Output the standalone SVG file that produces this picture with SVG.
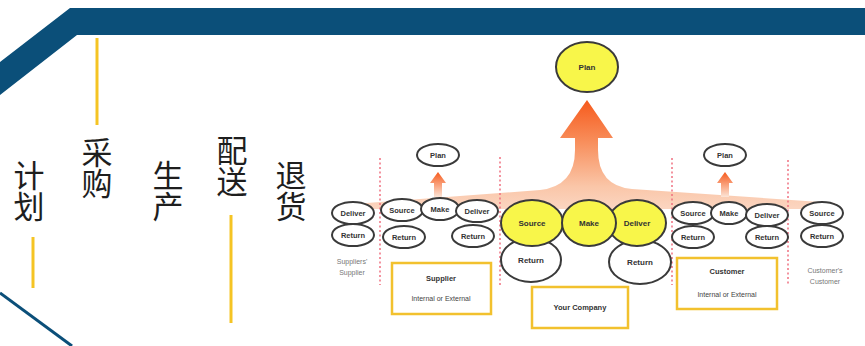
<svg xmlns="http://www.w3.org/2000/svg" width="865" height="346" viewBox="0 0 865 346">
<defs>
<linearGradient id="bigArrow" x1="0" y1="100" x2="0" y2="208" gradientUnits="userSpaceOnUse">
<stop offset="0" stop-color="#F65A1C"/>
<stop offset="0.4" stop-color="#F8905E"/>
<stop offset="0.8" stop-color="#FAC6A8"/>
<stop offset="1" stop-color="#FBD5C0"/>
</linearGradient>
<linearGradient id="smallArrow" x1="0" y1="0" x2="0" y2="1">
<stop offset="0" stop-color="#F65A1C"/>
<stop offset="1" stop-color="#FCE4D6"/>
</linearGradient>
<style>
.el{fill:#fff;stroke:#3a3a3a;stroke-width:2}
.yel{fill:#F8F64A;stroke:#3a3a3a;stroke-width:2}
.lbl{font-family:"Liberation Sans",Arial,sans-serif;font-size:7.5px;font-weight:bold;fill:#333;text-anchor:middle}
.blbl{font-family:"Liberation Sans",Arial,sans-serif;font-size:8px;font-weight:bold;fill:#333;text-anchor:middle}
.box{fill:#fff;stroke:#F2C12E;stroke-width:2.5}
.gray{font-family:"Liberation Sans",Arial,sans-serif;font-size:7px;fill:#777;text-anchor:middle}
.sub{font-family:"Liberation Sans",Arial,sans-serif;font-size:7px;fill:#444;text-anchor:middle}
.cn{font-family:"Noto Sans CJK SC","Noto Sans",sans-serif;font-size:31px;fill:#1e1e1e;writing-mode:vertical-rl;text-orientation:upright}
.dash{stroke:#F07080;stroke-width:1.5;stroke-dasharray:2 2.5;fill:none}
.ylw{stroke:#F5C424;stroke-width:3}
</style>
</defs>
<rect width="865" height="346" fill="#fff"/>
<!-- frame -->
<polygon points="0,62 70,8 865,8 865,35 77,35 0,95" fill="#0B4F79"/>
<line x1="0" y1="293" x2="72" y2="346" stroke="#0B4F79" stroke-width="3"/>
<!-- yellow lines -->
<line class="ylw" x1="97" y1="38" x2="97" y2="125"/>
<line class="ylw" x1="33" y1="237" x2="33" y2="288"/>
<line class="ylw" x1="231" y1="215" x2="231" y2="323"/>
<!-- Chinese labels -->
<g id="label-plan-cn"><text class="cn" x="29" y="160">计划</text></g>
<g id="label-source-cn"><text class="cn" x="97" y="137">采购</text></g>
<g id="label-make-cn"><text class="cn" x="168" y="160">生产</text></g>
<g id="label-deliver-cn"><text class="cn" x="232" y="135">配送</text></g>
<g id="label-return-cn"><text class="cn" x="291" y="160">退货</text></g>
<!-- connectors: arrows and fan -->
<g id="connectors">
<path d="M340,209 L340,205 L540,190 Q575,186 575,150 L575,138 L560,138 L587,100 L613,138 L598,138 L598,150 Q598,186 632,189 L835,203 L835,209 Z" fill="url(#bigArrow)"/>
<path d="M434,197 L434,183 L430,183 L438,172 L446,183 L442,183 L442,197 Z" fill="url(#smallArrow)"/>
<path d="M721,197 L721,183 L717,183 L725,172 L733,183 L729,183 L729,197 Z" fill="url(#smallArrow)"/>
<line class="dash" x1="380" y1="158" x2="380" y2="285"/>
<line class="dash" x1="500" y1="157" x2="500" y2="285"/>
<line class="dash" x1="672" y1="158" x2="672" y2="285"/>
<line class="dash" x1="788" y1="160" x2="788" y2="285"/>
</g>
<!-- Suppliers' supplier -->
<g id="ss-deliver"><ellipse class="el" cx="353" cy="213" rx="21" ry="11"/><text class="lbl" x="353" y="216">Deliver</text></g>
<g id="ss-return"><ellipse class="el" cx="353" cy="235" rx="21" ry="11"/><text class="lbl" x="353" y="238">Return</text></g>
<g id="ss-label"><text class="gray" x="352" y="264">Suppliers'</text><text class="gray" x="352" y="275">Supplier</text></g>
<!-- Supplier -->
<g id="sup-plan"><ellipse class="el" cx="438" cy="155" rx="21" ry="11"/><text class="lbl" x="438" y="158">Plan</text></g>
<g id="sup-source"><ellipse class="el" cx="402" cy="210" rx="21" ry="11"/><text class="lbl" x="402" y="213">Source</text></g>
<g id="sup-make"><ellipse class="el" cx="440" cy="209" rx="19" ry="11"/><text class="lbl" x="440" y="212">Make</text></g>
<g id="sup-deliver"><ellipse class="el" cx="477" cy="211" rx="21" ry="11"/><text class="lbl" x="477" y="214">Deliver</text></g>
<g id="sup-return1"><ellipse class="el" cx="404" cy="237" rx="21" ry="11"/><text class="lbl" x="404" y="240">Return</text></g>
<g id="sup-return2"><ellipse class="el" cx="473" cy="236" rx="21" ry="11"/><text class="lbl" x="473" y="239">Return</text></g>
<g id="sup-box"><rect class="box" x="392" y="263" width="99" height="51"/><text class="lbl" x="441" y="281">Supplier</text><text class="sub" x="441" y="301">Internal or External</text></g>
<!-- Your company -->
<g id="yc-plan"><ellipse class="yel" cx="587" cy="67" rx="31" ry="25"/><text class="blbl" x="587" y="70">Plan</text></g>
<g id="yc-return1"><ellipse class="el" cx="531" cy="260" rx="30" ry="22"/><text class="blbl" x="531" y="263">Return</text></g>
<g id="yc-return2"><ellipse class="el" cx="640" cy="262" rx="31" ry="22"/><text class="blbl" x="640" y="265">Return</text></g>
<g id="yc-source"><ellipse class="yel" cx="532" cy="223" rx="31" ry="23"/><text class="blbl" x="532" y="226">Source</text></g>
<g id="yc-deliver"><ellipse class="yel" cx="637" cy="223" rx="29" ry="23"/><text class="blbl" x="637" y="226">Deliver</text></g>
<g id="yc-make"><ellipse class="yel" cx="589" cy="223" rx="27" ry="23"/><text class="blbl" x="589" y="226">Make</text></g>
<g id="yc-box"><rect class="box" x="532" y="287" width="96" height="41"/><text class="lbl" x="580" y="310">Your Company</text></g>
<!-- Customer -->
<g id="cus-plan"><ellipse class="el" cx="725" cy="155" rx="21" ry="11"/><text class="lbl" x="725" y="158">Plan</text></g>
<g id="cus-source"><ellipse class="el" cx="693" cy="213" rx="21" ry="11"/><text class="lbl" x="693" y="216">Source</text></g>
<g id="cus-make"><ellipse class="el" cx="729" cy="213" rx="18" ry="11"/><text class="lbl" x="729" y="216">Make</text></g>
<g id="cus-deliver"><ellipse class="el" cx="767" cy="215" rx="21" ry="11"/><text class="lbl" x="767" y="218">Deliver</text></g>
<g id="cus-return1"><ellipse class="el" cx="693" cy="237" rx="21" ry="11"/><text class="lbl" x="693" y="240">Return</text></g>
<g id="cus-return2"><ellipse class="el" cx="767" cy="237" rx="21" ry="11"/><text class="lbl" x="767" y="240">Return</text></g>
<g id="cus-box"><rect class="box" x="677" y="258" width="100" height="51"/><text class="lbl" x="727" y="274">Customer</text><text class="sub" x="727" y="297">Internal or External</text></g>
<!-- Customer's customer -->
<g id="cc-source"><ellipse class="el" cx="822" cy="213" rx="21" ry="11"/><text class="lbl" x="822" y="216">Source</text></g>
<g id="cc-return"><ellipse class="el" cx="822" cy="236" rx="21" ry="11"/><text class="lbl" x="822" y="239">Return</text></g>
<g id="cc-label"><text class="gray" x="825" y="273">Customer's</text><text class="gray" x="825" y="284">Customer</text></g>
</svg>
